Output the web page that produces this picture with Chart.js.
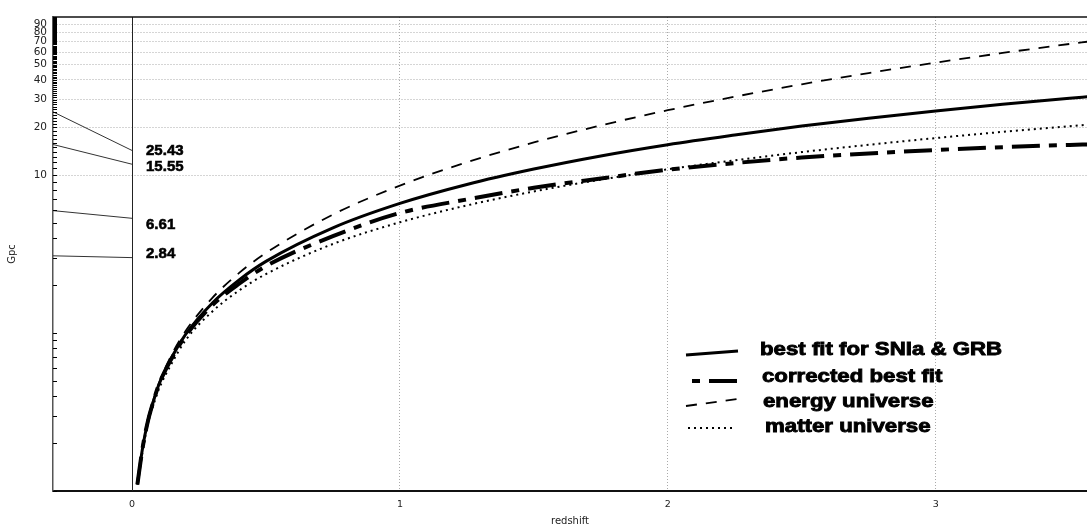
<!DOCTYPE html>
<html>
<head>
<meta charset="utf-8">
<script src="https://cdn.jsdelivr.net/npm/chart.js@4.4.1/dist/chart.umd.min.js"></script>
<style>
  html, body { margin: 0; padding: 0; background: #fff; }
  #wrap { width: 1087px; height: 527px; }
</style>
</head>
<body>
<div id="wrap"><canvas id="distChart"></canvas></div>
<script>
// redshift samples shared by the four curves
const redshift = [0.02, 0.04, 0.06, 0.08, 0.1, 0.15, 0.2, 0.3, 0.4, 0.5, 0.75, 1, 1.25, 1.5, 1.75, 2, 2.25, 2.5, 2.75, 3, 3.25, 3.5, 3.57];

// distances in Gpc
const bestFit = [0.11, 0.19, 0.28, 0.37, 0.47, 0.71, 0.98, 1.55, 2.17, 2.84, 4.63, 6.61, 8.71, 10.9, 13.2, 15.55, 17.9, 20.4, 22.9, 25.43, 28.0, 30.6, 31.3];
const correctedFit = [0.11, 0.19, 0.28, 0.37, 0.47, 0.70, 0.96, 1.5, 2.05, 2.65, 4.1, 5.75, 7.0, 8.3, 9.5, 10.8, 11.9, 12.9, 13.7, 14.4, 15.0, 15.5, 15.6];
const energyUniverse = [0.11, 0.19, 0.29, 0.38, 0.48, 0.74, 1.03, 1.67, 2.40, 3.21, 5.62, 8.57, 12.05, 16.06, 20.6, 25.7, 31.3, 37.5, 44.2, 51.4, 59.2, 67.5, 69.9];
const matterUniverse = [0.11, 0.18, 0.27, 0.35, 0.44, 0.65, 0.90, 1.37, 1.86, 2.36, 3.66, 5.02, 6.42, 7.87, 9.35, 10.86, 12.40, 13.96, 15.53, 17.13, 18.75, 20.38, 20.83];

// thin guide lines from the left edge to z = 0, with their labels
const guideX = [-0.295, 0];
const guideY = [[25.1, 14.3], [15.6, 11.7], [5.95, 5.32], [3.08, 3.0]];
const guideLabels = ["25.43", "15.55", "6.61", "2.84"];
const guideLabelAt = [14.3, 11.3, 4.83, 3.15];

const xTicks = [0, 1, 2, 3];
const yLabelled = [10, 20, 30, 40, 50, 60, 70, 80, 90];
// tick marks on the y axis: 1..9 per decade below 10, every integer above
const yMinor = [];
for (let m = 1; m <= 9; m++) yMinor.push(+(m * 0.1).toFixed(1));
for (let m = 1; m <= 9; m++) yMinor.push(m);
for (let m = 10; m <= 100; m++) yMinor.push(m);

const legendLabels = ["best fit for SNIa & GRB", "corrected best fit", "energy universe", "matter universe"];

function toPoints(values) {
  return values.map((v, i) => ({ x: redshift[i], y: v }));
}

const curveStyles = [
  { borderWidth: 3, borderDash: [] },
  { borderWidth: 4, borderDash: [28, 9, 8, 9] },
  { borderWidth: 1.8, borderDash: [11, 9] },
  { borderWidth: 2, borderDash: [2, 4] },
];

const curves = [bestFit, correctedFit, energyUniverse, matterUniverse].map((vals, i) => ({
  label: legendLabels[i],
  data: toPoints(vals),
  borderColor: "#000",
  borderWidth: curveStyles[i].borderWidth,
  borderDash: curveStyles[i].borderDash,
  pointRadius: 0,
  cubicInterpolationMode: "monotone",
  fill: false,
}));

const guideSets = guideY.map((ys) => ({
  label: "",
  data: ys.map((y, i) => ({ x: guideX[i], y: y })),
  borderColor: "#333",
  borderWidth: 1,
  pointRadius: 0,
  fill: false,
}));

function heavyText(ctx, text, x, y) {
  ctx.fillText(text, x, y);
  ctx.strokeText(text, x, y);
}

// borders, the solid x = 0 line, inner y ticks, value labels and legend
const decorations = {
  id: "decorations",
  beforeDatasetsDraw(chart) {
    const { ctx, chartArea, scales } = chart;
    const x0 = Math.round(scales.x.getPixelForValue(0)) + 0.5;
    ctx.save();
    ctx.strokeStyle = "#222";
    ctx.lineWidth = 1;
    ctx.beginPath();
    ctx.moveTo(x0, chartArea.top);
    ctx.lineTo(x0, chartArea.bottom);
    ctx.stroke();
    ctx.restore();
  },
  afterDraw(chart) {
    const { ctx, chartArea, scales } = chart;
    ctx.save();

    // top border
    ctx.strokeStyle = "#111";
    ctx.lineWidth = 1.5;
    ctx.beginPath();
    ctx.moveTo(chartArea.left, chartArea.top);
    ctx.lineTo(chartArea.right, chartArea.top);
    ctx.stroke();

    // y ticks pointing inwards
    ctx.strokeStyle = "#000";
    ctx.lineWidth = 1;
    yMinor.forEach((v) => {
      const y = Math.round(scales.y.getPixelForValue(v)) + 0.5;
      ctx.beginPath();
      ctx.moveTo(chartArea.left, y);
      ctx.lineTo(chartArea.left + 4, y);
      ctx.stroke();
    });

    // value labels next to the guide lines
    ctx.fillStyle = "#000";
    ctx.strokeStyle = "#000";
    ctx.lineWidth = 0.6;
    ctx.font = 'bold 15px "Liberation Sans", Arial, sans-serif';
    ctx.textBaseline = "middle";
    ctx.textAlign = "left";
    const lx = scales.x.getPixelForValue(0) + 14;
    guideLabels.forEach((t, i) => {
      heavyText(ctx, t, lx, scales.y.getPixelForValue(guideLabelAt[i]));
    });

    // legend
    const rows = [
      { x0: 686, y0: 355, x1: 738, y1: 351, tx: 760, ty: 350, offset: 0 },
      { x0: 692, y0: 381, x1: 741, y1: 381, tx: 762, ty: 377, offset: 37 },
      { x0: 686, y0: 406, x1: 737, y1: 399, tx: 763, ty: 402, offset: 0 },
      { x0: 688, y0: 428, x1: 732, y1: 428, tx: 765, ty: 427, offset: 0 },
    ];
    rows.forEach((r, i) => {
      const ds = chart.data.datasets[i];
      ctx.save();
      ctx.strokeStyle = "#000";
      ctx.lineWidth = ds.borderWidth;
      ctx.setLineDash(ds.borderDash);
      ctx.lineDashOffset = r.offset;
      ctx.beginPath();
      ctx.moveTo(r.x0, r.y0);
      ctx.lineTo(r.x1, r.y1);
      ctx.stroke();
      ctx.restore();

      ctx.save();
      ctx.translate(r.tx, r.ty);
      ctx.scale(1.17, 1);
      ctx.font = 'bold 19px "Liberation Sans", Arial, sans-serif';
      ctx.fillStyle = "#000";
      ctx.strokeStyle = "#000";
      ctx.lineWidth = 0.9;
      ctx.textBaseline = "middle";
      heavyText(ctx, legendLabels[i], 0, 0);
      ctx.restore();
    });

    ctx.restore();
  },
};

function createChart(chartElementId) {
  const ctx = document.getElementById(chartElementId).getContext("2d");
  new Chart(ctx, {
    type: "line",
    data: { datasets: curves.concat(guideSets) },
    plugins: [decorations],
    options: {
      responsive: true,
      maintainAspectRatio: false,
      animation: false,
      events: [],
      layout: { padding: { left: 0, right: 0, top: 17, bottom: 0 } },
      plugins: {
        legend: { display: false },
        tooltip: { enabled: false },
      },
      scales: {
        x: {
          type: "linear",
          min: -0.295,
          max: 3.565,
          afterBuildTicks: (axis) => {
            axis.ticks = xTicks.map((v) => ({ value: v }));
          },
          afterFit: (axis) => {
            axis.height = 36;
          },
          ticks: {
            autoSkip: false,
            maxRotation: 0,
            padding: 8,
            color: "#222",
            font: { family: "DejaVu Sans", size: 9.5 },
          },
          grid: {
            drawTicks: false,
            color: (c) => (c.tick && c.tick.value === 0 ? "transparent" : "#aaa"),
            lineWidth: 1,
          },
          border: { display: true, color: "#111", width: 2, dash: [1, 2] },
          title: {
            display: true,
            text: "redshift",
            color: "#222",
            font: { family: "DejaVu Sans", size: 10 },
            padding: { top: 0, bottom: 0 },
          },
        },
        y: {
          type: "logarithmic",
          min: 0.1,
          max: 100,
          afterBuildTicks: (axis) => {
            axis.ticks = yMinor.map((v) => ({ value: v }));
          },
          afterFit: (axis) => {
            axis.width = 53;
          },
          ticks: {
            autoSkip: false,
            padding: 6,
            color: "#222",
            font: { family: "DejaVu Sans", size: 10.5 },
            callback: (v) => (yLabelled.includes(v) ? String(v) : ""),
          },
          grid: {
            drawTicks: false,
            color: (c) => (c.tick && yLabelled.includes(c.tick.value) ? "#aaa" : "transparent"),
            lineWidth: 1,
          },
          border: { display: true, color: "#555", width: 1.5, dash: [1, 2] },
          title: {
            display: true,
            text: "Gpc",
            color: "#222",
            font: { family: "DejaVu Sans", size: 10 },
            padding: { top: 6, bottom: 0 },
          },
        },
      },
    },
  });
}

createChart("distChart");
</script>
</body>
</html>
